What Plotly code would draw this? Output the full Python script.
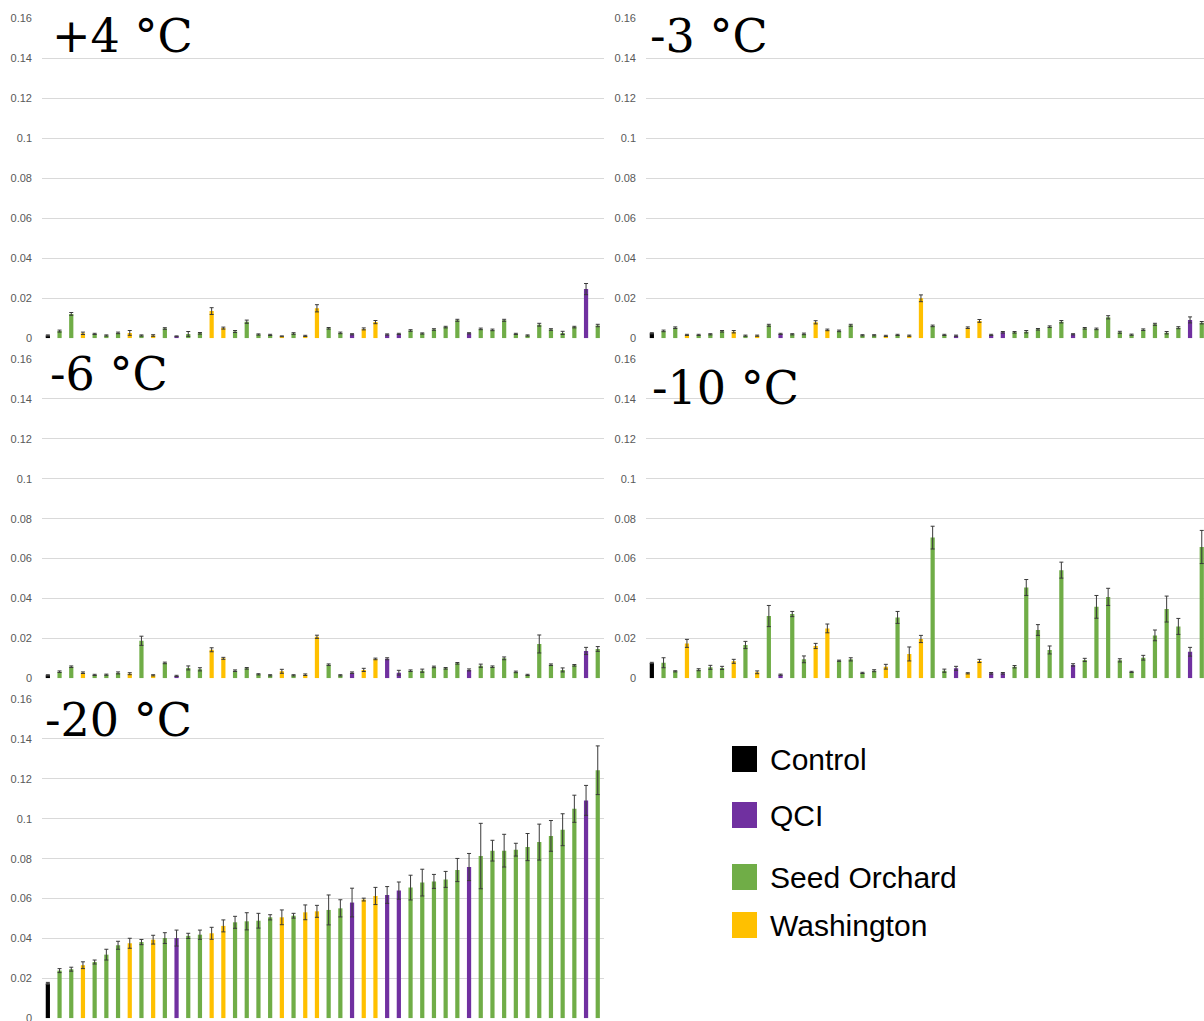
import plotly.graph_objects as go

# Seed-source group of each family (same family order in every panel)
group_codes = "KGGYGGGYGYGPGGYYGGGGYGYYGGPYYPPGGGGGPGGGGGGGGGPG"
group_names = {"K": "Control", "P": "QCI", "G": "Seed Orchard", "Y": "Washington"}
group_colors = {"Control": "#000000", "QCI": "#7030A0",
                "Seed Orchard": "#70AD47", "Washington": "#FFC000"}
groups = [group_names[c] for c in group_codes]
families = list(range(len(groups)))

# Mean values per family at each test temperature
plus4 = [0.0014, 0.0036, 0.0122, 0.0025, 0.0022, 0.0014, 0.0027, 0.0027, 0.0014, 0.0014,
         0.0049, 0.0010, 0.0022, 0.0025, 0.0136, 0.0051, 0.0034, 0.0083, 0.0019, 0.0017,
         0.0010, 0.0024, 0.0012, 0.0150, 0.0050, 0.0027, 0.0020, 0.0047, 0.0081, 0.0019,
         0.0022, 0.0039, 0.0024, 0.0044, 0.0056, 0.0090, 0.0025, 0.0047, 0.0042, 0.0090,
         0.0022, 0.0014, 0.0068, 0.0044, 0.0027, 0.0056, 0.0246, 0.0064]
plus4_err = [0.0003, 0.0005, 0.0007, 0.0006, 0.0003, 0.0003, 0.0004, 0.0012, 0.0003, 0.0004,
             0.0004, 0.0002, 0.0012, 0.0004, 0.0017, 0.0005, 0.0005, 0.0008, 0.0003, 0.0003,
             0.0002, 0.0004, 0.0003, 0.0018, 0.0004, 0.0004, 0.0003, 0.0005, 0.0008, 0.0003,
             0.0003, 0.0004, 0.0003, 0.0004, 0.0004, 0.0005, 0.0003, 0.0004, 0.0004, 0.0005,
             0.0003, 0.0003, 0.0007, 0.0004, 0.0008, 0.0004, 0.0028, 0.0006]

minus3 = [0.0025, 0.0037, 0.0053, 0.0017, 0.0017, 0.0020, 0.0035, 0.0033, 0.0013, 0.0013,
          0.0065, 0.0022, 0.0020, 0.0022, 0.0080, 0.0042, 0.0037, 0.0065, 0.0015, 0.0015,
          0.0012, 0.0017, 0.0013, 0.0200, 0.0062, 0.0017, 0.0013, 0.0053, 0.0087, 0.0017,
          0.0030, 0.0030, 0.0033, 0.0045, 0.0058, 0.0083, 0.0020, 0.0050, 0.0047, 0.0105,
          0.0030, 0.0018, 0.0043, 0.0070, 0.0028, 0.0053, 0.0092, 0.0078]
minus3_err = [0.0003, 0.0004, 0.0004, 0.0003, 0.0003, 0.0003, 0.0004, 0.0006, 0.0003, 0.0003,
              0.0005, 0.0003, 0.0003, 0.0004, 0.0008, 0.0004, 0.0004, 0.0005, 0.0003, 0.0003,
              0.0003, 0.0003, 0.0003, 0.0017, 0.0004, 0.0003, 0.0003, 0.0004, 0.0007, 0.0003,
              0.0004, 0.0004, 0.0006, 0.0004, 0.0004, 0.0006, 0.0003, 0.0004, 0.0004, 0.0008,
              0.0005, 0.0003, 0.0004, 0.0005, 0.0006, 0.0005, 0.0015, 0.0006]

minus6 = [0.0015, 0.0033, 0.0058, 0.0028, 0.0017, 0.0018, 0.0027, 0.0023, 0.0188, 0.0015,
          0.0077, 0.0012, 0.0052, 0.0045, 0.0143, 0.0100, 0.0038, 0.0050, 0.0020, 0.0015,
          0.0035, 0.0015, 0.0018, 0.0208, 0.0068, 0.0015, 0.0028, 0.0042, 0.0097, 0.0098,
          0.0028, 0.0038, 0.0038, 0.0057, 0.0050, 0.0075, 0.0042, 0.0063, 0.0058, 0.0100,
          0.0032, 0.0017, 0.0172, 0.0068, 0.0042, 0.0065, 0.0137, 0.0147]
minus6_err = [0.0003, 0.0004, 0.0004, 0.0004, 0.0003, 0.0003, 0.0005, 0.0005, 0.0023, 0.0003,
              0.0004, 0.0003, 0.0010, 0.0008, 0.0010, 0.0005, 0.0004, 0.0004, 0.0003, 0.0003,
              0.0010, 0.0003, 0.0004, 0.0008, 0.0004, 0.0003, 0.0004, 0.0008, 0.0004, 0.0005,
              0.0012, 0.0004, 0.0008, 0.0004, 0.0004, 0.0004, 0.0005, 0.0008, 0.0004, 0.0007,
              0.0004, 0.0003, 0.0045, 0.0004, 0.0010, 0.0004, 0.0018, 0.0012]

minus10 = [0.0077, 0.0078, 0.0035, 0.0175, 0.0043, 0.0055, 0.0052, 0.0085, 0.0167, 0.0030,
           0.0312, 0.0018, 0.0322, 0.0095, 0.0162, 0.0250, 0.0088, 0.0095, 0.0027, 0.0038,
           0.0058, 0.0305, 0.0122, 0.0197, 0.0705, 0.0038, 0.0050, 0.0025, 0.0087, 0.0025,
           0.0025, 0.0058, 0.0455, 0.0242, 0.0142, 0.0542, 0.0067, 0.0092, 0.0358, 0.0408,
           0.0090, 0.0032, 0.0103, 0.0215, 0.0347, 0.0260, 0.0133, 0.0658]
minus10_err = [0.0003, 0.0025, 0.0003, 0.0020, 0.0005, 0.0010, 0.0008, 0.0010, 0.0018, 0.0007,
               0.0053, 0.0003, 0.0013, 0.0017, 0.0013, 0.0022, 0.0003, 0.0008, 0.0003, 0.0005,
               0.0012, 0.0030, 0.0035, 0.0018, 0.0057, 0.0008, 0.0010, 0.0003, 0.0008, 0.0004,
               0.0004, 0.0006, 0.0040, 0.0027, 0.0020, 0.0040, 0.0006, 0.0008, 0.0057, 0.0043,
               0.0008, 0.0003, 0.0012, 0.0027, 0.0065, 0.0040, 0.0022, 0.0083]

minus20 = [0.0175, 0.0239, 0.0246, 0.0266, 0.0282, 0.0319, 0.0366, 0.0376, 0.0382, 0.0394,
           0.0402, 0.0402, 0.0413, 0.0419, 0.0426, 0.0463, 0.0481, 0.0486, 0.0489, 0.0506,
           0.0506, 0.0514, 0.0531, 0.0536, 0.0543, 0.0551, 0.0580, 0.0595, 0.0613, 0.0618,
           0.0640, 0.0655, 0.0680, 0.0686, 0.0696, 0.0743, 0.0758, 0.0813, 0.0840, 0.0840,
           0.0845, 0.0858, 0.0883, 0.0914, 0.0945, 0.1050, 0.1092, 0.1243]
minus20_err = [0.0005, 0.0010, 0.0010, 0.0017, 0.0010, 0.0027, 0.0020, 0.0025, 0.0013, 0.0022,
               0.0027, 0.0040, 0.0013, 0.0023, 0.0030, 0.0030, 0.0030, 0.0043, 0.0037, 0.0013,
               0.0037, 0.0012, 0.0037, 0.0030, 0.0075, 0.0043, 0.0072, 0.0007, 0.0043, 0.0042,
               0.0043, 0.0062, 0.0067, 0.0035, 0.0040, 0.0058, 0.0068, 0.0164, 0.0052, 0.0082,
               0.0032, 0.0068, 0.0090, 0.0077, 0.0080, 0.0068, 0.0075, 0.0122]

panel_titles = ["+4 \u00b0C", "-3 \u00b0C", "-6 \u00b0C", "-10 \u00b0C", "-20 \u00b0C"]
panel_values = [plus4, minus3, minus6, minus10, minus20]
panel_errors = [plus4_err, minus3_err, minus6_err, minus10_err, minus20_err]
y_ticks = [0, 0.02, 0.04, 0.06, 0.08, 0.1, 0.12, 0.14, 0.16]

W, H = 1204, 1021
spacing = 11.7                      # px per family slot
left_x = (42, 42 + 48 * spacing)    # left column plot area, px
right_x = (646, W)                  # right column (clipped at page edge)
rows_px = [(18.3, 338.3), (359.0, 678.3), (699.0, 1018.3)]
cells = [(0, left_x), (0, right_x), (1, left_x), (1, right_x), (2, left_x)]

bar_colors = [group_colors[g] for g in groups]

fig = go.Figure()
layout_axes = {}
annotations = []
for i, (vals, errs, title, (row, xpx)) in enumerate(
        zip(panel_values, panel_errors, panel_titles, cells), start=1):
    xa = "x" if i == 1 else f"x{i}"
    ya = "y" if i == 1 else f"y{i}"
    fig.add_trace(go.Bar(
        x=families, y=vals, xaxis=xa, yaxis=ya,
        marker=dict(color=bar_colors, line=dict(width=0)),
        error_y=dict(type="data", array=errs, symmetric=True,
                     color="#3a3a3a", thickness=1, width=2),
        showlegend=False, width=0.36,
    ))
    x_hi = -0.5 + (xpx[1] - xpx[0]) / spacing
    top, bot = rows_px[row]
    layout_axes[f"xaxis{'' if i == 1 else i}"] = dict(
        domain=[xpx[0] / W, xpx[1] / W], range=[-0.5, x_hi],
        showticklabels=False, showgrid=False, zeroline=False, showline=False,
        anchor=ya, fixedrange=True,
    )
    layout_axes[f"yaxis{'' if i == 1 else i}"] = dict(
        domain=[1 - bot / H, 1 - top / H], range=[0, 0.16],
        tickvals=y_ticks, ticktext=[f"{v:g}" for v in y_ticks],
        showgrid=True, gridcolor="#d9d9d9", gridwidth=1,
        zeroline=False, showline=False, ticks="",
        tickfont=dict(family="Liberation Sans", size=11, color="#595959"),
        ticklabelstandoff=9, ticklabeloverflow="allow",
        anchor=xa, automargin=False, fixedrange=True,
    )

# Panel temperature labels
title_pos = [(50, 36), (648, 36), (48, 374), (650, 388), (43, 720)]
for title, (tx, ty) in zip(panel_titles, title_pos):
    annotations.append(dict(
        text=title, x=tx / W, y=1 - ty / H, xref="paper", yref="paper",
        xanchor="left", yanchor="middle", showarrow=False,
        font=dict(family="DejaVu Serif", size=46, color="#000000"),
    ))

# Group key
legend_items = ["Control", "QCI", "Seed Orchard", "Washington"]
legend_y = [759, 815, 877, 925]
shapes = []
for name, ly in zip(legend_items, legend_y):
    shapes.append(dict(
        type="rect", xref="paper", yref="paper",
        x0=732 / W, x1=757 / W, y0=1 - (ly + 13) / H, y1=1 - (ly - 13) / H,
        fillcolor=group_colors[name], line=dict(width=0),
    ))
    annotations.append(dict(
        text=name, x=768 / W, y=1 - ly / H, xref="paper", yref="paper",
        xanchor="left", yanchor="middle", showarrow=False,
        font=dict(family="Liberation Sans", size=30, color="#000000"),
    ))

fig.update_layout(
    width=W, height=H, autosize=False,
    margin=dict(l=0, r=0, t=0, b=0),
    paper_bgcolor="#ffffff", plot_bgcolor="#ffffff",
    bargap=0.64, annotations=annotations, shapes=shapes,
    **layout_axes,
)

fig.write_html("out.html")
